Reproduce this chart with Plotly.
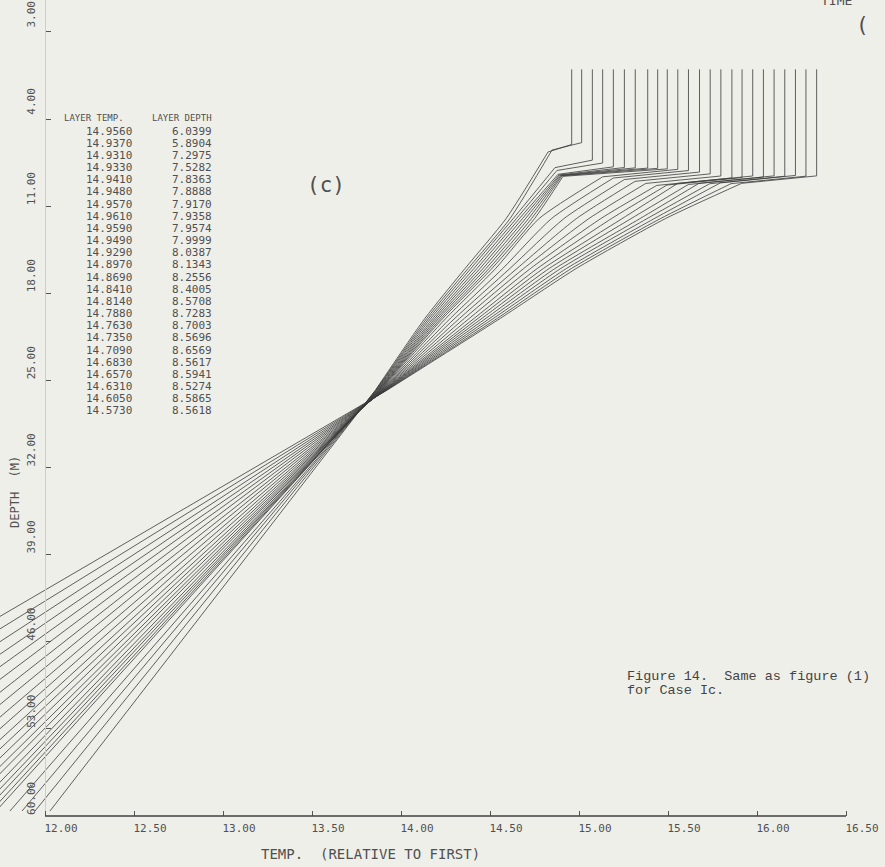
import plotly.graph_objects as go

# ---------------- data ----------------
layer_temp = [14.9560, 14.9370, 14.9310, 14.9330, 14.9410, 14.9480, 14.9570, 14.9610,
              14.9590, 14.9490, 14.9290, 14.8970, 14.8690, 14.8410, 14.8140, 14.7880,
              14.7630, 14.7350, 14.7090, 14.6830, 14.6570, 14.6310, 14.6050, 14.5730]
layer_depth = [6.0399, 5.8904, 7.2975, 7.5282, 7.8363, 7.8888, 7.9170, 7.9358,
               7.9574, 7.9999, 8.0387, 8.1343, 8.2556, 8.4005, 8.5708, 8.7283,
               8.7003, 8.5696, 8.6569, 8.5617, 8.5941, 8.5274, 8.5865, 8.5618]

# plotted (offset) mixed-layer temperature of each profile
surface_temp = [14.959, 15.015, 15.075, 15.133, 15.193, 15.255, 15.316, 15.386,
                15.442, 15.496, 15.555, 15.615, 15.677, 15.737, 15.797, 15.859,
                15.916, 15.976, 16.036, 16.096, 16.156, 16.216, 16.275, 16.335]
# temperature just below the layer base
step_temp = [14.826, 14.848, 14.865, 14.876, 14.882, 14.888, 14.893, 14.899, 14.904, 14.910,
             15.133, 15.193, 15.255, 15.315, 15.375, 15.437, 15.494, 15.554, 15.614, 15.674,
             15.734, 15.794, 15.854, 15.914]
step_extra_depth = 0.6
# temperatures at fixed depth levels (thermocline)
level_depth = [12.0, 16.0, 20.0, 25.8]
temp_12m = [14.590, 14.612, 14.630, 14.648, 14.665, 14.682, 14.699, 14.716, 14.733, 14.750,
            14.775, 14.845, 14.915, 14.985, 15.055, 15.122, 15.182, 15.242, 15.292, 15.342,
            15.382, 15.422, 15.457, 15.485]
temp_16m = [14.360, 14.377, 14.393, 14.410, 14.427, 14.444, 14.461, 14.478, 14.495, 14.511,
            14.532, 14.572, 14.612, 14.652, 14.690, 14.728, 14.766, 14.800, 14.833, 14.866,
            14.898, 14.930, 14.958, 14.985]
temp_20m = [14.135, 14.146, 14.157, 14.168, 14.180, 14.191, 14.202, 14.213, 14.225, 14.236,
            14.253, 14.278, 14.303, 14.330, 14.357, 14.385, 14.412, 14.434, 14.456, 14.478,
            14.500, 14.521, 14.542, 14.559]
temp_waist = [13.855, 13.858, 13.860, 13.863, 13.866, 13.869, 13.872, 13.875, 13.877, 13.880,
              13.883, 13.886, 13.889, 13.891, 13.894, 13.897, 13.900, 13.903, 13.905, 13.908,
              13.911, 13.914, 13.917, 13.920]
# deep end of each profile
bottom_depth = 59.6
temp_bottom = [12.028, 11.944, 11.871, 11.803, 11.725, 11.697, 11.663, 11.629, 11.590, 11.539,
               11.494, 11.438, 11.376, 11.309, 11.225, 11.129, 11.017, 10.899, 10.764, 10.618,
               10.461, 10.287, 10.090, 9.876]

x_ticks = [12.0, 12.5, 13.0, 13.5, 14.0, 14.5, 15.0, 15.5, 16.0, 16.5]
x_ticktext = ["12.00", "12.50", "13.00", "13.50", "14.00", "14.50", "15.00", "15.50", "16.00", "16.50"]
y_ticks = [-3, 4, 11, 18, 25, 32, 39, 46, 53, 60]
y_ticktext = ["3.00", "4.00", "11.00", "18.00", "25.00", "32.00", "39.00", "46.00", "53.00", "60.00"]

# ---------------- layout geometry ----------------
W, H = 885, 867
PLOT_H = 816                       # plot area height (px), bottom margin below
X_RANGE = [11.7472, 16.7191]       # full window width
Y_RANGE = [60.0, -5.571]           # depth increases downward

BG = "#efefe9"
INK = "#3a3a3a"
TXT = "#505050"
MONO = "DejaVu Sans Mono"


def pxx(xp):
    return xp / W


def pxy(yp):
    return (PLOT_H - yp) / PLOT_H


def xpaper(v):
    return (v - X_RANGE[0]) / (X_RANGE[1] - X_RANGE[0])


def note(text, x, y, size, xanchor="center", family=MONO, color=TXT, angle=0):
    return dict(text=text, x=pxx(x), y=pxy(y), xref="paper", yref="paper",
                xanchor=xanchor, yanchor="middle", showarrow=False, textangle=angle,
                font=dict(family=family, size=size, color=color))


line_style = dict(color=INK, width=0.8)
fig = go.Figure()
for i in range(len(surface_temp)):
    d = layer_depth[i]
    # mixed layer and the sharp step beneath it
    fig.add_trace(go.Scatter(
        x=[surface_temp[i], surface_temp[i], step_temp[i]],
        y=[0.0, d, d + step_extra_depth],
        mode="lines", line=line_style, hoverinfo="skip", showlegend=False))
    # curved thermocline down to the crossing point
    fig.add_trace(go.Scatter(
        x=[step_temp[i], temp_12m[i], temp_16m[i], temp_20m[i], temp_waist[i]],
        y=[d + step_extra_depth] + level_depth,
        mode="lines", line=dict(color=INK, width=0.8, shape="spline", smoothing=0.6),
        hoverinfo="skip", showlegend=False))
    # straight deep segment
    fig.add_trace(go.Scatter(
        x=[temp_waist[i], temp_bottom[i]],
        y=[level_depth[-1], bottom_depth],
        mode="lines", line=line_style, hoverinfo="skip", showlegend=False))

annotations = []
# table
annotations.append(note("LAYER TEMP.", 62, 118, 9, "left"))
annotations.append(note("LAYER DEPTH", 150, 118, 9, "left"))
row0, row_step = 131.0, 12.17
for k, (t, dpt) in enumerate(zip(layer_temp, layer_depth)):
    yy = row0 + k * row_step
    annotations.append(note(f"{t:.4f}", 84, yy, 11, "left"))
    annotations.append(note(f"{dpt:.4f}", 170, yy, 11, "left"))
# panel label
annotations.append(note("(c)", 326, 185, 21))
# axis titles
annotations.append(note("TEMP.  (RELATIVE TO FIRST)", 370, 854, 14))
annotations.append(note("DEPTH  (M)", 15, 492, 12, angle=-90))
# caption
annotations.append(note("Figure 14.  Same as figure (1)", 625, 676, 13.5, "left",
                        family="Liberation Mono", color="#444"))
annotations.append(note("for Case Ic.", 625, 690, 13.5, "left",
                        family="Liberation Mono", color="#444"))
# clipped neighbour-panel text at top right
annotations.append(note("TIME", 836, 1, 13))
annotations.append(note("(", 862, 25, 21))

shapes = [dict(type="line", xref="paper", yref="paper",
               x0=xpaper(x_ticks[0]), x1=xpaper(x_ticks[-1]), y0=0, y1=0,
               line=dict(color="#404040", width=1.6))]

fig.update_layout(
    width=W, height=H,
    margin=dict(l=0, r=0, t=0, b=H - PLOT_H),
    paper_bgcolor=BG, plot_bgcolor=BG,
    showlegend=False,
    annotations=annotations,
    shapes=shapes,
    xaxis=dict(range=X_RANGE, showgrid=False, zeroline=False, showline=False,
               tickmode="array", tickvals=x_ticks, ticktext=x_ticktext,
               ticks="inside", ticklen=5, tickcolor="#555", tickwidth=1,
               ticklabelshift=16, ticklabelstandoff=4, ticklabeloverflow="allow",
               tickfont=dict(family=MONO, size=11, color=TXT)),
    yaxis=dict(range=Y_RANGE, showgrid=False, zeroline=False,
               anchor="free", position=pxx(45),
               showline=True, linecolor="#cfcfc8", linewidth=1,
               tickmode="array", tickvals=y_ticks, ticktext=y_ticktext,
               ticks="inside", ticklen=5, tickcolor="#555", tickwidth=1,
               tickangle=-90, ticklabelshift=16, ticklabelstandoff=6,
               ticklabeloverflow="allow",
               tickfont=dict(family=MONO, size=11, color=TXT)),
)

fig.write_html("out.html", config={"displayModeBar": False},
               post_script="document.body.style.margin='0';document.body.style.background='#efefe9';")
